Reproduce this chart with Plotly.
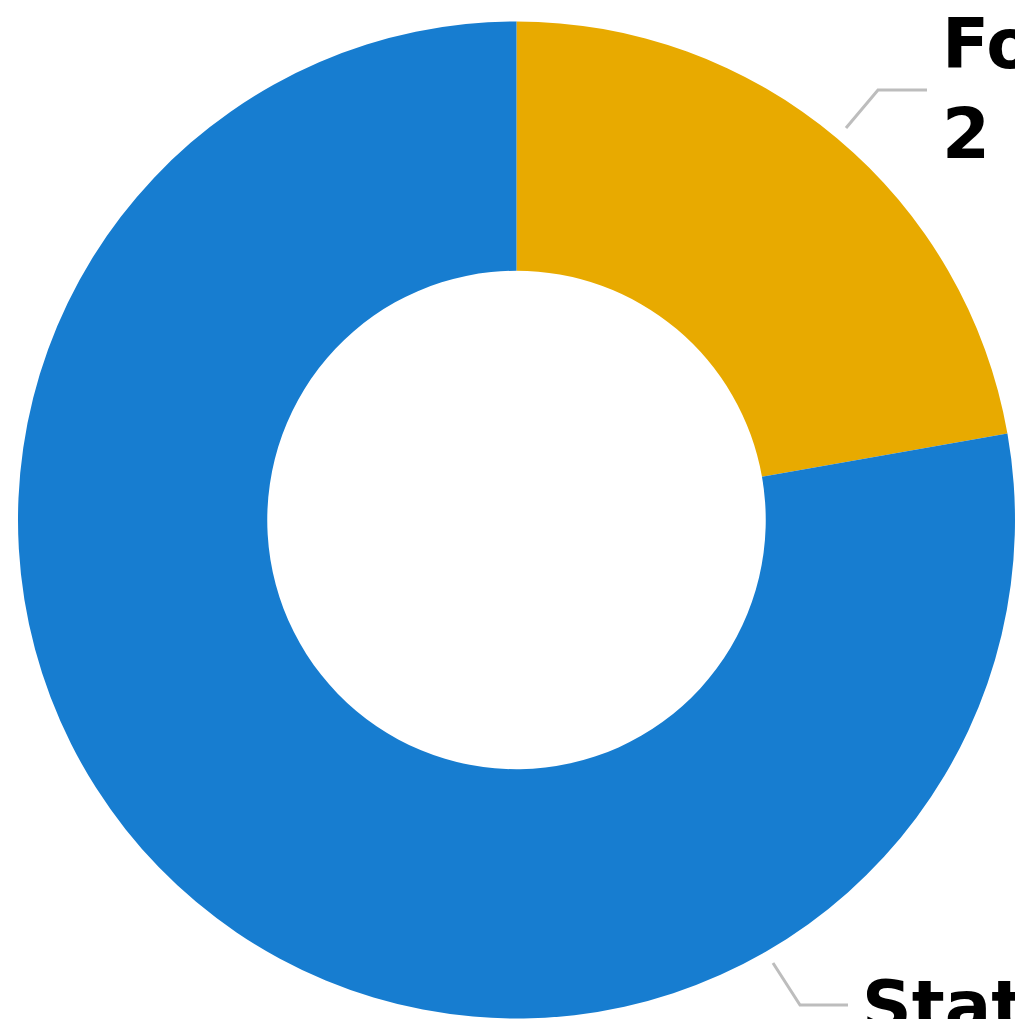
import plotly.graph_objects as go

labels = ["Foundation", "State"]
values = [2, 7]
colors = ["#E8AA00", "#177DD0"]

W, H = 1015, 1019

def px(x):
    return x / W

def py(y):
    return 1 - y / H

fig = go.Figure(go.Pie(
    labels=labels,
    values=values,
    hole=0.5,
    sort=False,
    direction="clockwise",
    rotation=0,
    marker=dict(colors=colors, line=dict(width=0)),
    textinfo="none",
    hoverinfo="label+value",
    domain=dict(x=[18 / W, 1.0], y=[0.0, py(21)]),
    showlegend=False,
))

line_style = dict(color="#BDBDBD", width=3)
fig.add_shape(type="path", xref="paper", yref="paper",
              path=f"M {px(846)} {py(128)} L {px(878)} {py(90)} L {px(927)} {py(90)}",
              line=line_style)
fig.add_shape(type="path", xref="paper", yref="paper",
              path=f"M {px(773)} {py(963)} L {px(800)} {py(1005)} L {px(848)} {py(1005)}",
              line=line_style)

font = dict(family="DejaVu Sans", size=69, color="#000000")
fig.add_annotation(x=px(940), y=py(89), xref="paper", yref="paper",
                   text=f"<b>{labels[0]}<br>{values[0]}</b>", showarrow=False,
                   xanchor="left", yanchor="middle", align="left", font=font)
fig.add_annotation(x=px(860), y=py(1051), xref="paper", yref="paper",
                   text=f"<b>{labels[1]}<br>{values[1]}</b>", showarrow=False,
                   xanchor="left", yanchor="middle", align="left", font=font)

fig.update_layout(
    width=W, height=H,
    margin=dict(l=0, r=0, t=0, b=0),
    paper_bgcolor="white",
    plot_bgcolor="white",
)

fig.write_html(
    "out.html",
    config={"displayModeBar": False},
    post_script="document.body.style.margin='0';document.body.style.padding='0';"
                "document.body.style.overflow='hidden';"
                "document.documentElement.style.overflow='hidden';",
)
